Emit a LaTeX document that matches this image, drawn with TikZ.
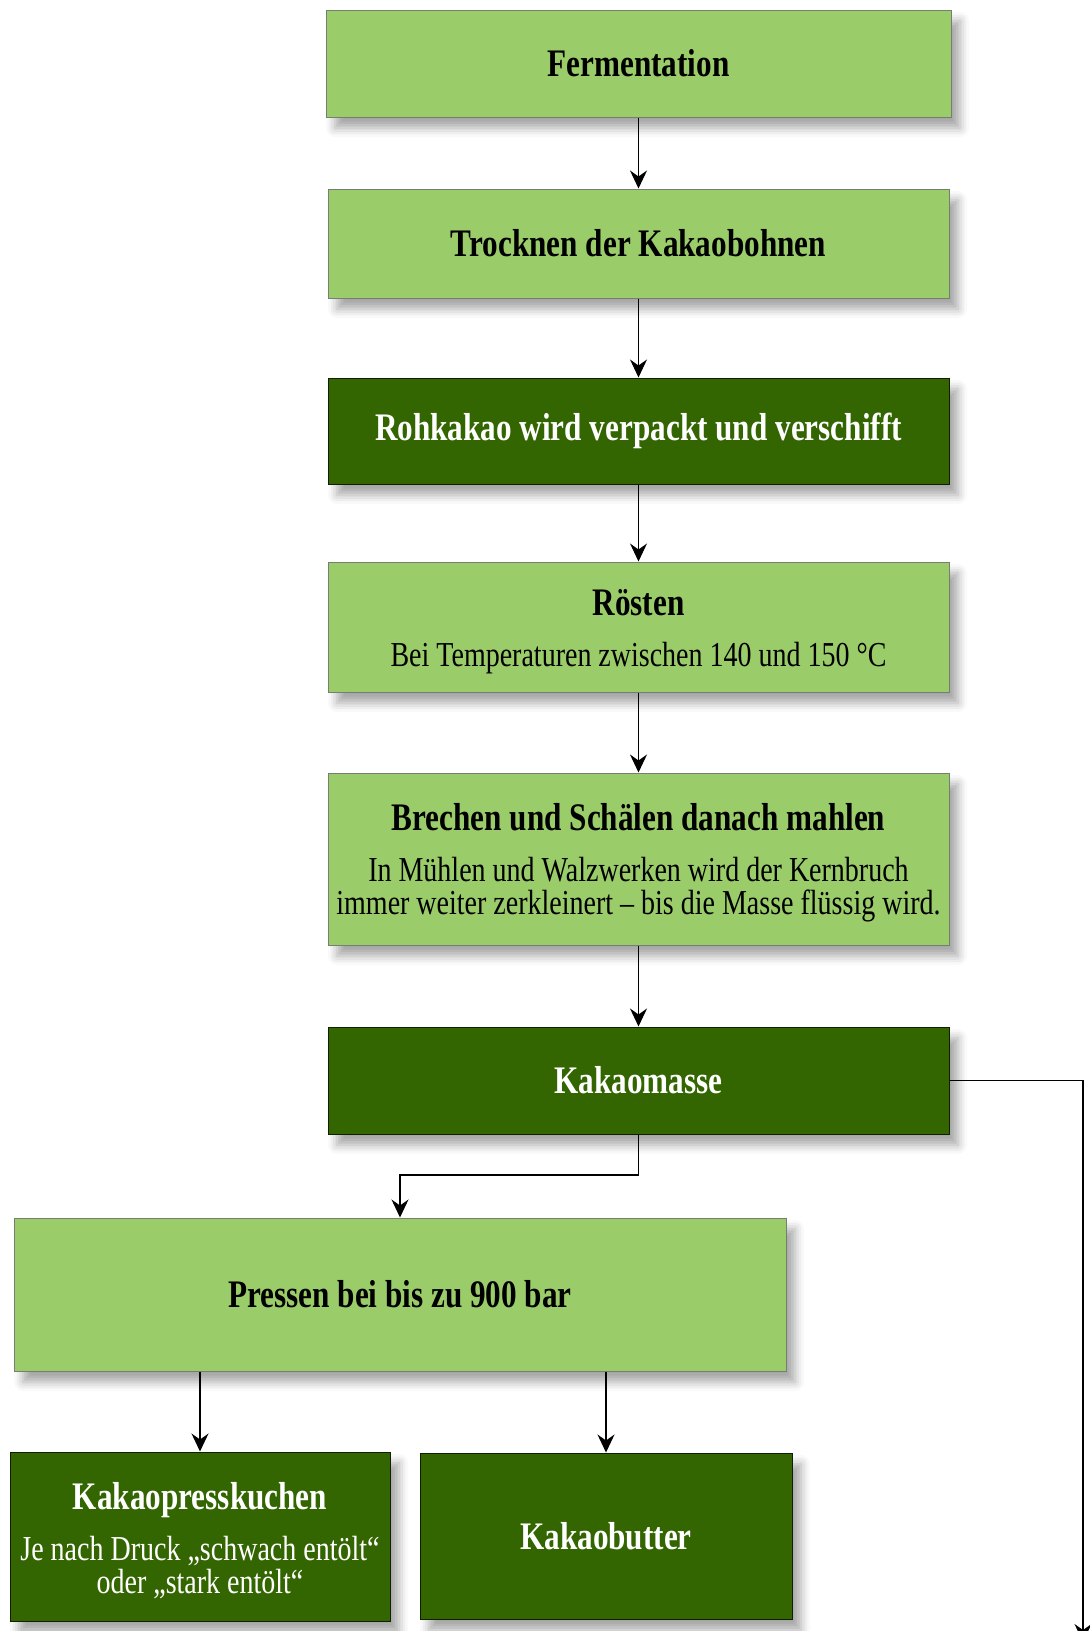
\documentclass[tikz,border=0pt]{standalone}
\usepackage{fontspec}
\setmainfont[FakeStretch=0.8]{Liberation Serif}
\usetikzlibrary{arrows.meta,shadows.blur}
\definecolor{hellgruen}{RGB}{155,204,106}
\definecolor{dunkelgruen}{RGB}{51,102,0}
\definecolor{randgrau}{RGB}{120,125,115}
\newcommand{\kopf}[1]{{\bfseries\fontsize{39}{33}\selectfont #1}}
\newcommand{\hoch}{\rule{0pt}{35.5pt}}
\tikzset{
	schritt/.style={rectangle,draw=randgrau,line width=1pt,fill=hellgruen,text=black,
		align=center,inner sep=0pt,font=\fontsize{35}{33}\selectfont,
		blur shadow={shadow xshift=9pt,shadow yshift=-11pt,shadow blur radius=9pt,shadow opacity=35}},
	produkt/.style={schritt,draw=black!70!dunkelgruen,fill=dunkelgruen,text=white},
	pfeil/.style={line width=1.3pt,-{Stealth[length=18pt,width=17pt,inset=6pt]}}
}
\begin{document}
	\begin{tikzpicture}[x=1pt,y=-1pt]
		\useasboundingbox (0,0) rectangle (1090,1631);
		% Verarbeitungsschritte
		\node[schritt,minimum width=625pt,minimum height=107pt] (ferm) at (638.5,63.5) {\kopf{Fermentation}};
		\node[schritt,minimum width=621pt,minimum height=109pt] (trock) at (638.5,243.5) {\kopf{Trocknen der Kakaobohnen}};
		\node[produkt,minimum width=621pt,minimum height=106pt] (roh) at (638.5,431) {\kopf{Rohkakao wird verpackt und verschifft}};
		\node[schritt,minimum width=621pt,minimum height=130pt] (roest) at (638.5,627) {\kopf{\hoch Rösten}\\[18pt]Bei Temperaturen zwischen 140 und 150 °C};
		\node[schritt,minimum width=621pt,minimum height=172pt] (brech) at (638.5,859) {\kopf{\hoch Brechen und Schälen danach mahlen}\\[18pt]In Mühlen und Walzwerken wird der Kernbruch\\immer weiter zerkleinert – bis die Masse flüssig wird.};
		\node[produkt,minimum width=621pt,minimum height=107pt] (masse) at (638.5,1080.5) {\kopf{Kakaomasse}};
		\node[schritt,minimum width=772pt,minimum height=153pt] (pressen) at (400,1294.5) {\kopf{Pressen bei bis zu 900 bar}};
		\node[produkt,minimum width=380pt,minimum height=169pt] (kuchen) at (200,1536.5) {\kopf{\hoch Kakaopresskuchen}\\[18pt]Je nach Druck „schwach entölt“\\oder „stark entölt“};
		\node[produkt,minimum width=372pt,minimum height=166pt] (butter) at (606,1536) {\kopf{Kakaobutter}};
		% Verbindungen
		\coordinate (knick) at (520,1175);
		\coordinate (rechts) at (1083,1080.5);
		\coordinate (ende) at (1083,1642);
		\draw[pfeil] (ferm) -- (trock);
		\draw[pfeil] (trock) -- (roh);
		\draw[pfeil] (roh) -- (roest);
		\draw[pfeil] (roest) -- (brech);
		\draw[pfeil] (brech) -- (masse);
		\draw[pfeil] (masse.south) |- (knick) -| (pressen.north);
		\draw[pfeil] (pressen.south -| kuchen.north) -- (kuchen.north);
		\draw[pfeil] (pressen.south -| butter.north) -- (butter.north);
		\draw[pfeil] (masse.east) -- (rechts) -- (ende);
	\end{tikzpicture}
\end{document}
